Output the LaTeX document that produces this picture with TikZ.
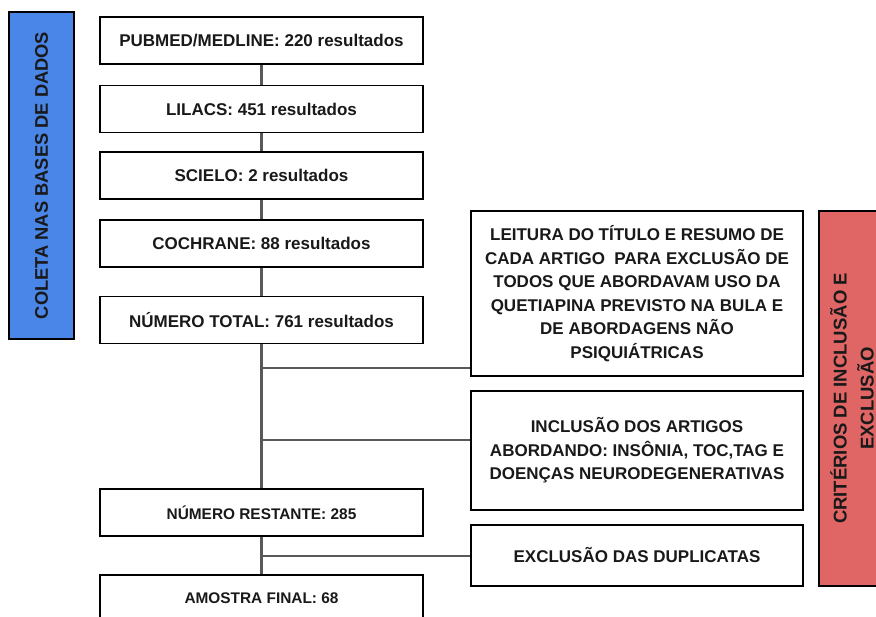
\documentclass[tikz,border=0pt]{standalone}
\usepackage{fontspec}
\setmainfont{Liberation Sans}
\definecolor{coletablue}{HTML}{4A86E8}
\definecolor{criteriored}{HTML}{E06666}
\definecolor{linkgray}{HTML}{595959}

\begin{document}
\begin{tikzpicture}[x=1pt,y=-1pt]
        \tikzstyle{every node}=[font=\bfseries\fontsize{17}{23.5}\selectfont, text=black!90, inner sep=0pt]
        \tikzstyle{box}=[draw, line width=1.7pt, fill=white, minimum width=323pt, minimum height=47pt]
        \tikzstyle{rbox}=[box, minimum width=332pt, align=center]
        \tikzstyle{link}=[draw=linkgray, line width=2.2pt]
        \tikzstyle{side}=[draw, line width=1.6pt, rotate=90, align=center]
        \useasboundingbox (0,0) rectangle (876,617);
        \clip (0,0) rectangle (876,617);
        % coleta
        \node[side, fill=coletablue, minimum width=327pt, minimum height=65pt, font=\bfseries\fontsize{18.3}{24}\selectfont] (coleta) at (41.5,175.5) {COLETA NAS BASES DE DADOS};
        \node[box] (pubmed) at (261.5,40.5) {PUBMED/MEDLINE: 220 resultados};
        \node[box] (lilacs) at (261.5,109) {LILACS: 451 resultados};
        \node[box] (scielo) at (261.5,175.5) {SCIELO: 2 resultados};
        \node[box] (cochrane) at (261.5,243.5) {COCHRANE: 88 resultados};
        \node[box] (total) at (261.5,320) {NÚMERO TOTAL: 761 resultados};
        \node[box, font=\bfseries\fontsize{15.4}{20}\selectfont] (rest) at (261.5,512.5) {NÚMERO RESTANTE: 285};
        \node[box, font=\bfseries\fontsize{15.4}{20}\selectfont] (final) at (261.5,598.5) {AMOSTRA FINAL: 68};
        % criterios
        \node[rbox, minimum height=165pt] (leit) at (637,293.5) {LEITURA DO TÍTULO E RESUMO DE\\CADA ARTIGO\ \ PARA EXCLUSÃO DE\\TODOS QUE ABORDAVAM USO DA\\QUETIAPINA PREVISTO NA BULA E\\DE ABORDAGENS NÃO\\PSIQUIÁTRICAS};
        \node[rbox, minimum height=119pt] (incl) at (637,450.5) {INCLUSÃO DOS ARTIGOS\\ABORDANDO: INSÔNIA, TOC,TAG E\\DOENÇAS NEURODEGENERATIVAS};
        \node[rbox, minimum height=61pt] (dupl) at (637,555.5) {EXCLUSÃO DAS DUPLICATAS};
        \node[side, fill=criteriored, minimum width=375pt, minimum height=66pt, font=\bfseries\fontsize{18.5}{27}\selectfont] (crit) at (852,398.5) {CRITÉRIOS DE INCLUSÃO E\\EXCLUSÃO};
        \draw[link] (pubmed) -- (lilacs) (lilacs) -- (scielo) (scielo) -- (cochrane) (cochrane) -- (total) (total) -- (rest) (rest) -- (final);
        \coordinate (b1) at (total.south |- 0,368);
        \coordinate (b2) at (total.south |- 0,440);
        \coordinate (b3) at (rest.south |- 0,556);
        \draw[link] (b1) -- (b1 -| leit.west) (b2) -- (b2 -| incl.west) (b3) -- (b3 -| dupl.west);
\end{tikzpicture}
\end{document}
